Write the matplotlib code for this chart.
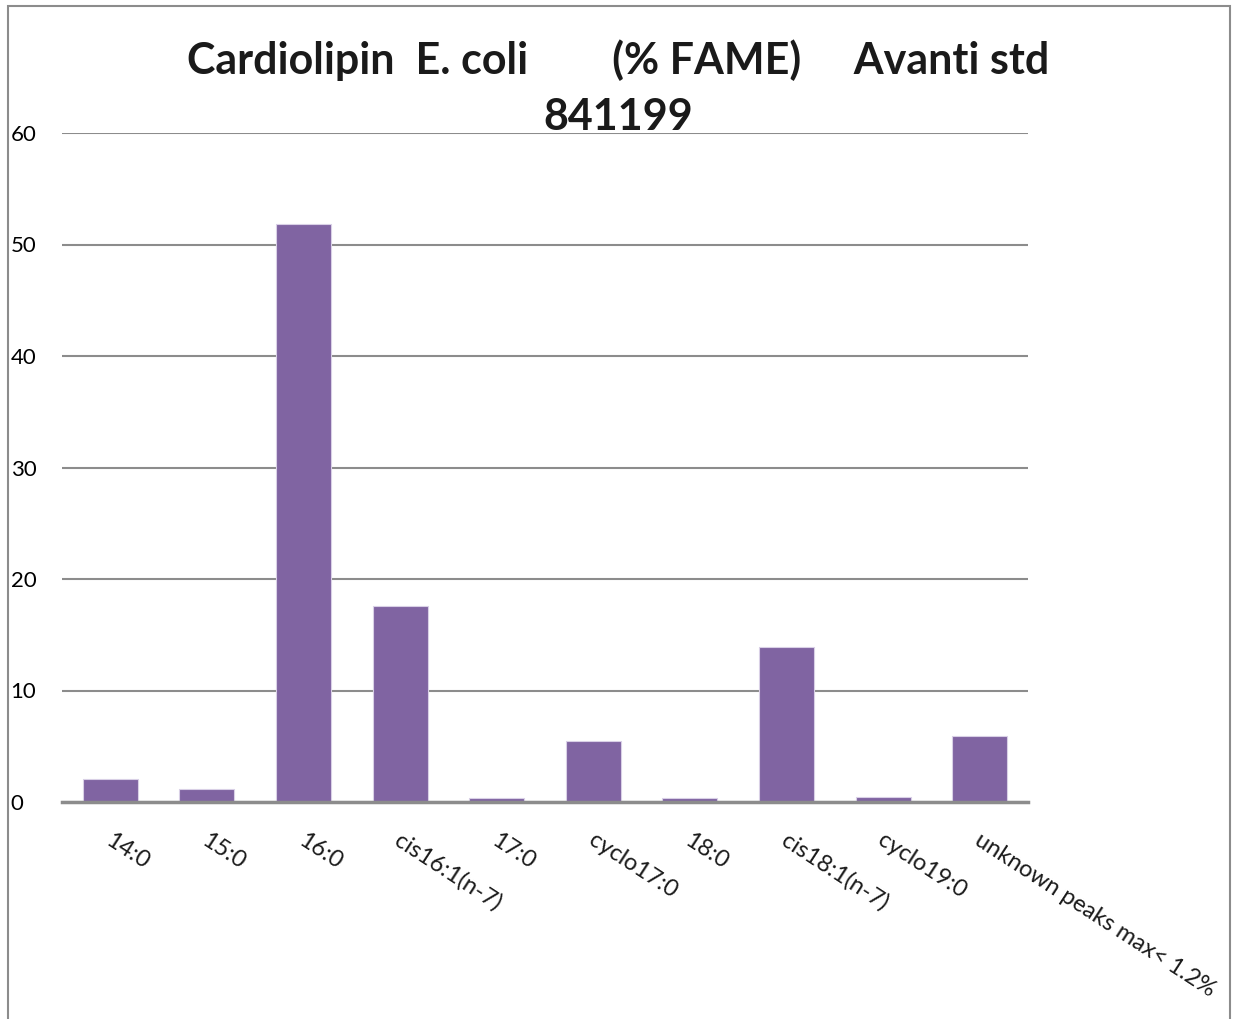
import matplotlib.pyplot as plt
from matplotlib.patches import Rectangle

categories = ["14:0", "15:0", "16:0", "cis16:1(n-7)", "17:0", "cyclo17:0",
              "18:0", "cis18:1(n-7)", "cyclo19:0", "unknown peaks max< 1.2%"]
fame_pct = [2.1, 1.2, 51.8, 17.6, 0.4, 5.5, 0.4, 13.9, 0.45, 5.9]
y_ticks = [0, 10, 20, 30, 40, 50, 60]

plt.rcParams['font.family'] = ['Lato', 'DejaVu Sans']

W, H = 1242, 1019
fig = plt.figure(figsize=(W / 100, H / 100), dpi=100)
ax = fig.add_axes([62 / W, 1 - 802 / H, (1028 - 62) / W, (802 - 133) / H])

# chart border
fig.patches.append(Rectangle((8 / W, -0.05), (1230 - 8) / W, 1 - 6 / H + 0.05,
                             transform=fig.transFigure, fill=False,
                             edgecolor='#8c8c8c', linewidth=1.5))

x = range(len(categories))
ax.bar(x, fame_pct, width=0.57, color='#8064a2', edgecolor='#d9d0e6',
       linewidth=0.8, zorder=3)

ax.set_xlim(-0.5, len(categories) - 0.5)
ax.set_ylim(0, 60)
ax.set_yticks(y_ticks)
ax.set_yticklabels([str(t) for t in y_ticks], fontsize=16, ha='left')
ax.tick_params(axis='y', length=0, pad=37)
ax.yaxis.grid(True, color='#8c8c8c', linewidth=1.5, zorder=0)
for s in ['left', 'right', 'top']:
    ax.spines[s].set_visible(False)
ax.spines['bottom'].set_color('#8c8c8c')
ax.spines['bottom'].set_linewidth(2.5)
ax.spines['bottom'].set_zorder(4)

ax.set_xticks(list(x))
ax.set_xticklabels([])
ax.tick_params(axis='x', length=0)
for i, lab in enumerate(categories):
    ax.annotate(lab, xy=(i, 0), xycoords=('data', 'axes fraction'),
                xytext=(2, -20), textcoords='offset points',
                rotation=-33, rotation_mode='anchor', ha='left', va='top',
                fontsize=17, color='#1a1a1a')

title_kw = dict(ha='center', va='baseline', fontsize=31, fontweight='bold',
                color='#1a1a1a')
fig.text(618 / W, 1 - 74 / H,
         "Cardiolipin  E. coli        (% FAME)     Avanti std", **title_kw)
fig.text(618 / W, 1 - 130 / H, "841199", **title_kw)

fig.savefig('out.png', dpi=100)
